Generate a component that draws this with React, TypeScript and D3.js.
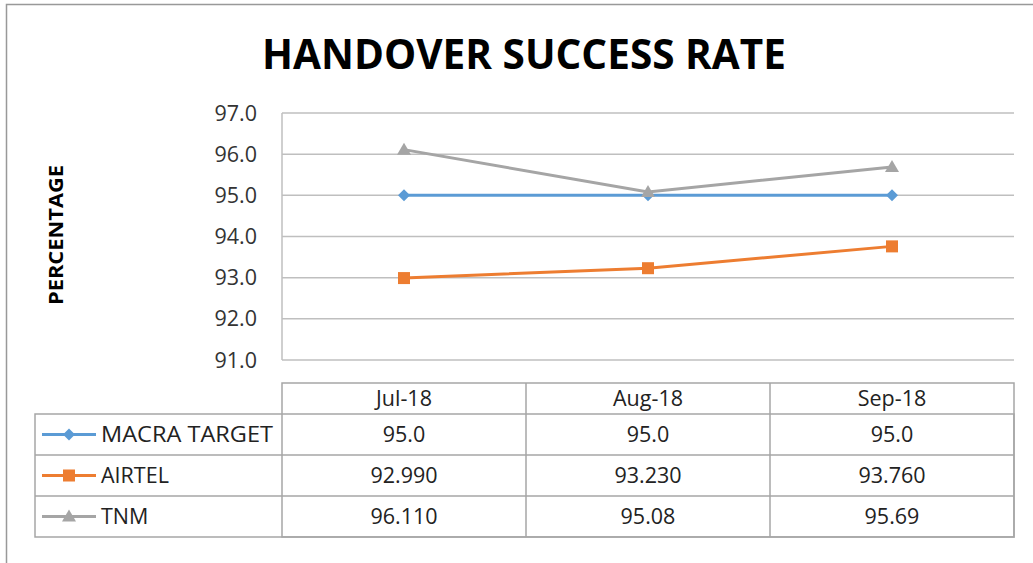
import React from "react";
import * as d3 from "d3";

const months = ["Jul-18", "Aug-18", "Sep-18"];
const seriesNames = ["MACRA TARGET", "AIRTEL", "TNM"];
const macraTarget = [95.0, 95.0, 95.0];
const airtel = [92.99, 93.23, 93.76];
const tnm = [96.11, 95.08, 95.69];
const tableLabels = [
  ["95.0", "95.0", "95.0"],
  ["92.990", "93.230", "93.760"],
  ["96.110", "95.08", "95.69"],
];
const yTicks = [91, 92, 93, 94, 95, 96, 97];

const colors = ["#5B9BD5", "#ED7D31", "#A5A5A5"];
const font = "'Open Sans', 'Liberation Sans', sans-serif";

export default function App() {
  const W = 1033, H = 563;
  const plot = { left: 282, right: 1014, top: 113, bottom: 360 };

  const x = d3.scaleBand().domain(months).range([plot.left, plot.right]);
  const y = d3.scaleLinear().domain([91, 97]).range([plot.bottom, plot.top]);

  const data = [macraTarget, airtel, tnm];
  const line = d3.line<number>()
    .x((d, i) => x(months[i])! + x.bandwidth() / 2)
    .y(d => y(d));

  const tableTop = 383;
  const headerH = 31;
  const rowH = 41;
  const legendLeft = 35;

  const marker = (k: number, cx: number, cy: number, key: string) => {
    if (k === 0) {
      return <path key={key} d={`M${cx},${cy - 6}L${cx + 6},${cy}L${cx},${cy + 6}L${cx - 6},${cy}Z`} fill={colors[0]} />;
    }
    if (k === 1) {
      return <rect key={key} x={cx - 6} y={cy - 6} width={12} height={12} fill={colors[1]} />;
    }
    return <path key={key} d={`M${cx},${cy - 7}L${cx + 7},${cy + 5}L${cx - 7},${cy + 5}Z`} fill={colors[2]} />;
  };

  return (
    <svg width={W} height={H} style={{ position: "absolute", left: 0, top: 0 }}>
      <rect x={0} y={0} width={W} height={H} fill="#fff" />
      <path d={`M6.5,${H}V4.5H${W}`} fill="none" stroke="#999" strokeWidth={1.5} />

      <text x={524} y={69} textAnchor="middle" fontFamily={font} fontWeight="bold" fontSize={42}
        textLength={524} lengthAdjust="spacingAndGlyphs" fill="#000">HANDOVER SUCCESS RATE</text>

      <text transform="translate(63,235) rotate(-90)" textAnchor="middle" fontFamily={font}
        fontWeight="bold" fontSize={19} textLength={140} lengthAdjust="spacingAndGlyphs" fill="#000">PERCENTAGE</text>

      {/* gridlines */}
      {yTicks.map(t => (
        <g key={t}>
          <line x1={plot.left} x2={plot.right} y1={y(t)} y2={y(t)} stroke="#BFBFBF" strokeWidth={1.5} />
          <text x={257} y={y(t) + 7.5} textAnchor="end" fontFamily={font} fontSize={21.5} fill="#333">{t.toFixed(1)}</text>
        </g>
      ))}
      <line x1={plot.left} x2={plot.left} y1={plot.top} y2={plot.bottom} stroke="#BFBFBF" strokeWidth={1.5} />

      {/* lines and markers */}
      {data.map((s, k) => (
        <g key={k}>
          <path d={line(s)!} fill="none" stroke={colors[k]} strokeWidth={3} />
          {s.map((v, i) => marker(k, x(months[i])! + x.bandwidth() / 2, y(v), `${k}-${i}`))}
        </g>
      ))}

      {/* data table */}
      <g stroke="#A6A6A6" strokeWidth={1.5} fill="none">
        <rect x={plot.left} y={tableTop} width={plot.right - plot.left} height={headerH + rowH * 3} />
        <rect x={legendLeft} y={tableTop + headerH} width={plot.right - legendLeft} height={rowH * 3} />
        {months.slice(1).map(m => (
          <line key={m} x1={x(m)} x2={x(m)} y1={tableTop} y2={tableTop + headerH + rowH * 3} />
        ))}
        {[1, 2].map(r => (
          <line key={r} x1={legendLeft} x2={plot.right} y1={tableTop + headerH + rowH * r} y2={tableTop + headerH + rowH * r} />
        ))}
      </g>
      {months.map(m => (
        <text key={m} x={x(m)! + x.bandwidth() / 2} y={tableTop + 23} textAnchor="middle"
          fontFamily={font} fontSize={21.5} fill="#222">{m}</text>
      ))}
      {seriesNames.map((name, k) => {
        const cy = tableTop + headerH + rowH * k + rowH / 2;
        return (
          <g key={name}>
            <line x1={42} x2={96} y1={cy} y2={cy} stroke={colors[k]} strokeWidth={3} />
            {marker(k, 69, cy, `lg-${k}`)}
            <text x={101} y={cy + 7.5} fontFamily={font} fontSize={21.5} fill="#222"
              textLength={k === 0 ? 172 : undefined} lengthAdjust="spacingAndGlyphs">{name}</text>
            {tableLabels[k].map((lbl, i) => (
              <text key={i} x={x(months[i])! + x.bandwidth() / 2} y={cy + 7.5} textAnchor="middle"
                fontFamily={font} fontSize={21.5} fill="#222">{lbl}</text>
            ))}
          </g>
        );
      })}
    </svg>
  );
}
